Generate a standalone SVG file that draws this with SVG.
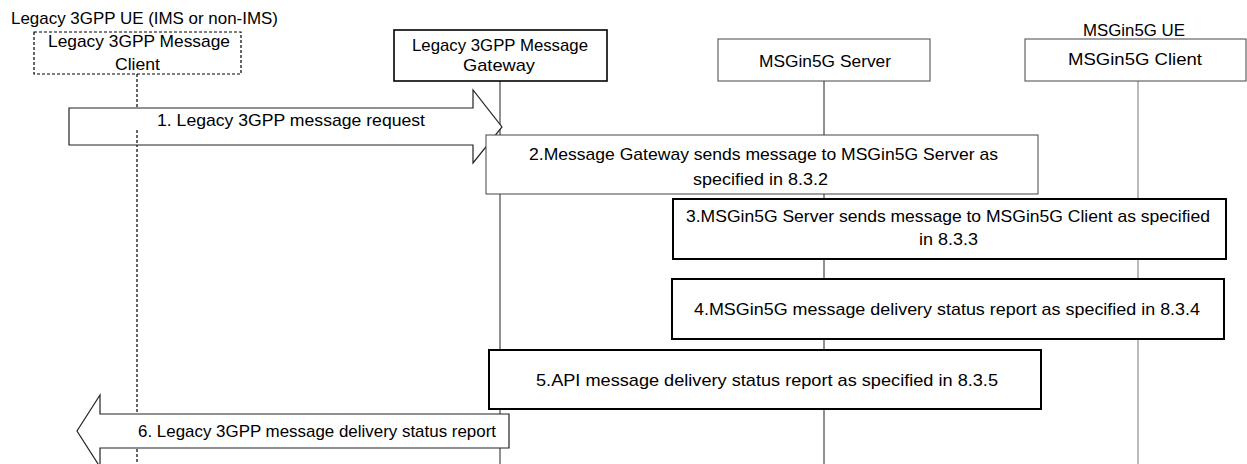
<svg xmlns="http://www.w3.org/2000/svg" width="1247" height="464" viewBox="0 0 1247 464">
<style>
text{font-family:"Liberation Sans",Arial,sans-serif;font-size:17px;fill:#000}
.thick{fill:#fff;stroke:#000;stroke-width:2}
.thin{fill:#fff;stroke:#444;stroke-width:1}
.life{stroke:#222;stroke-width:1;fill:none}
.dash{stroke:#000;stroke-width:1.2;stroke-dasharray:3 2;fill:none}
.arrow{fill:#fff;stroke:#222;stroke-width:1.2}
</style>
<rect width="1247" height="464" fill="#fff"/>
<g id="lifelines">
<line class="dash" x1="137" y1="74" x2="137" y2="464"/>
<line class="life" x1="500" y1="81" x2="500" y2="464"/>
<line class="life" x1="824" y1="81" x2="824" y2="464"/>
<line class="life" x1="1138" y1="81" x2="1138" y2="464" style="stroke:#777"/>
</g>
<g id="legacy-ue">
<text x="11" y="24" textLength="267" lengthAdjust="spacingAndGlyphs">Legacy 3GPP UE (IMS or non-IMS)</text>
</g>
<g id="legacy-client">
<rect x="34" y="32" width="207" height="42" fill="#fff" stroke="#000" stroke-width="1.2" stroke-dasharray="3 2"/>
<text x="48" y="47" textLength="182" lengthAdjust="spacingAndGlyphs">Legacy 3GPP Message</text>
<text x="115" y="70" textLength="45" lengthAdjust="spacingAndGlyphs">Client</text>
</g>
<g id="gateway">
<rect x="394" y="30" width="213" height="51" fill="#fff" stroke="#000" stroke-width="1.6"/>
<text x="412" y="51" textLength="176" lengthAdjust="spacingAndGlyphs">Legacy 3GPP Message</text>
<text x="463" y="71" textLength="72" lengthAdjust="spacingAndGlyphs">Gateway</text>
</g>
<g id="server">
<rect class="thin" x="718" y="39" width="212" height="42"/>
<text x="759" y="67" textLength="132" lengthAdjust="spacingAndGlyphs">MSGin5G Server</text>
</g>
<g id="msgin5g-client">
<text x="1083" y="36" textLength="102" lengthAdjust="spacingAndGlyphs">MSGin5G UE</text>
<rect class="thin" x="1025" y="39" width="221" height="42"/>
<text x="1068" y="65" textLength="134" lengthAdjust="spacingAndGlyphs">MSGin5G Client</text>
</g>
<g id="connectors">
<g id="step1">
<path class="arrow" d="M69,108 H473 V90 L502,127 L473,163 V145 H69 Z"/>
<line class="dash" x1="137" y1="130" x2="137" y2="145"/>
<text x="157" y="126" textLength="268" lengthAdjust="spacingAndGlyphs">1. Legacy 3GPP message request</text>
</g>
<g id="step6">
<path class="arrow" d="M509,414 H100 V395 L77,431 L100,467 V448 H509 Z"/>
<text x="138" y="437" textLength="358" lengthAdjust="spacingAndGlyphs">6. Legacy 3GPP message delivery status  report</text>
</g>
</g>
<g id="step2">
<rect class="thin" x="486" y="135" width="552" height="59"/>
<text x="529" y="160" textLength="469" lengthAdjust="spacingAndGlyphs">2.Message Gateway sends message to MSGin5G Server as</text>
<text x="693" y="185" textLength="135" lengthAdjust="spacingAndGlyphs">specified in 8.3.2</text>
</g>
<g id="step3">
<rect class="thick" x="673" y="199" width="553" height="60"/>
<text x="686" y="222" textLength="524" lengthAdjust="spacingAndGlyphs">3.MSGin5G Server sends message to MSGin5G Client as specified</text>
<text x="919" y="245" textLength="59" lengthAdjust="spacingAndGlyphs">in 8.3.3</text>
</g>
<g id="step4">
<rect class="thick" x="672" y="279" width="552" height="60"/>
<text x="694" y="315" textLength="506" lengthAdjust="spacingAndGlyphs">4.MSGin5G message delivery status report as specified in 8.3.4</text>
</g>
<g id="step5">
<rect class="thick" x="489" y="350" width="552" height="59"/>
<text x="536" y="386" textLength="462" lengthAdjust="spacingAndGlyphs">5.API  message delivery status report as specified in 8.3.5</text>
</g>
</svg>
